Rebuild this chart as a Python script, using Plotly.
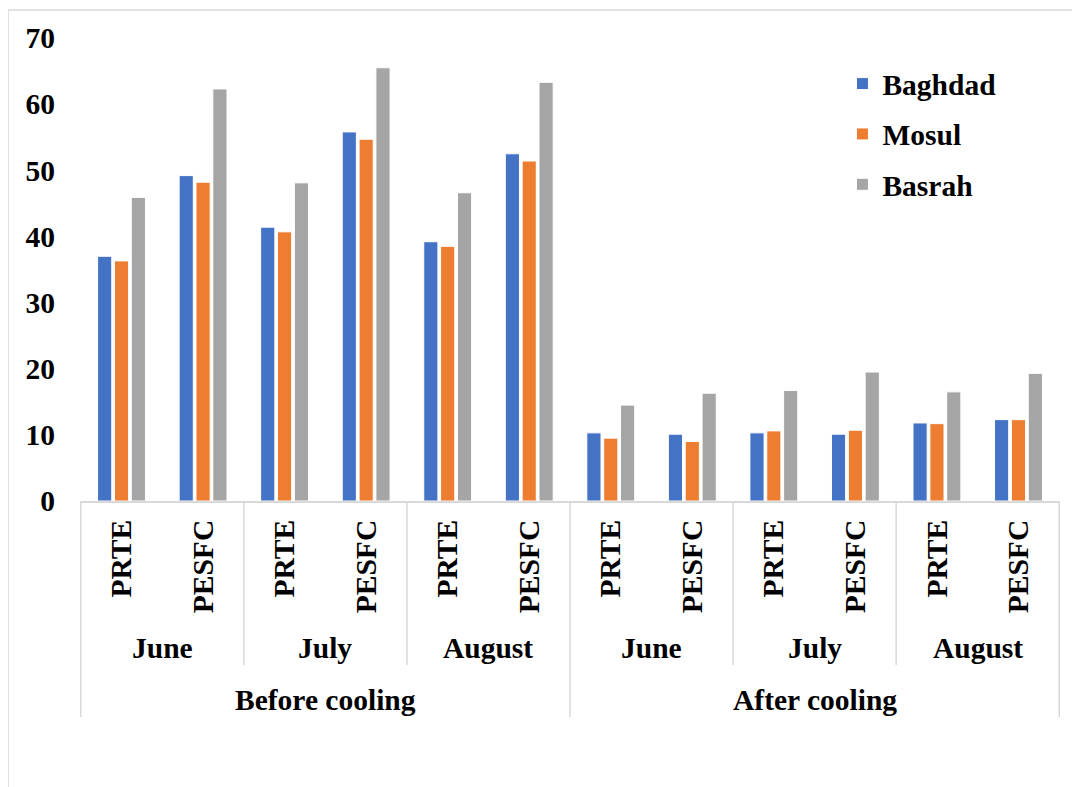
import plotly.graph_objects as go

# categories (three levels, outer to inner)
phases = ["Before cooling", "After cooling"]
months = ["June", "July", "August"]
metrics = ["PRTE", "PESFC"]

# values, in order:
# before: June PRTE, June PESFC, July PRTE, July PESFC, Aug PRTE, Aug PESFC, then after: same
baghdad = [37.0, 49.2, 41.4, 55.8, 39.2, 52.5, 10.3, 10.1, 10.3, 10.1, 11.8, 12.3]
mosul = [36.3, 48.2, 40.7, 54.7, 38.5, 51.4, 9.5, 9.0, 10.6, 10.7, 11.7, 12.3]
basrah = [45.9, 62.3, 48.1, 65.5, 46.6, 63.3, 14.5, 16.3, 16.7, 19.5, 16.5, 19.3]

series = [("Baghdad", baghdad, "#4472C4"),
          ("Mosul", mosul, "#ED7D31"),
          ("Basrah", basrah, "#A5A5A5")]

FONT = "'Liberation Serif', 'DejaVu Serif', serif"
FS = 29.5
GRID = "#D9D9D9"

# unique category keys, one per bar group
x_keys = []
x_text = []
for p in phases:
    for m in months:
        for k in metrics:
            x_keys.append(f"{p}|{m}|{k}")
            x_text.append(f"<b>{k}</b>")

fig = go.Figure()
for name, vals, color in series:
    fig.add_trace(go.Bar(
        x=x_keys, y=vals, name=f"<b>{name}</b>", legendgroup=name,
        marker=dict(color=color, line=dict(color="white", width=1)),
    ))

# axis geometry in paper units (plot: 463 px tall)
H = 463.0
def py(px_below):
    return -px_below / H

# month labels and phase labels
n_m = len(metrics)
n_pm = len(months) * n_m
for i, p in enumerate(phases):
    for j, m in enumerate(months):
        c = i * n_pm + j * n_m + (n_m - 1) / 2
        fig.add_annotation(x=c, y=py(147), xref="x", yref="paper", text=f"<b>{m}</b>",
                           showarrow=False, yanchor="middle",
                           font=dict(size=FS, family=FONT, color="black"))
    c = i * n_pm + (n_pm - 1) / 2
    fig.add_annotation(x=c, y=py(199), xref="x", yref="paper", text=f"<b>{p}</b>",
                       showarrow=False, yanchor="middle",
                       font=dict(size=FS, family=FONT, color="black"))

# divider lines of the category axis
for b in range(0, len(x_keys) + 1, n_m):
    long_line = b % n_pm == 0
    fig.add_shape(type="line", xref="x", yref="paper",
                  x0=b - 0.5, x1=b - 0.5, y0=0, y1=py(216 if long_line else 164),
                  line=dict(color=GRID, width=1.5))

# chart area border (left and top edges visible)
fig.add_shape(type="line", xref="paper", yref="paper", x0=-0.0734, x1=-0.0734,
              y0=1.0605, y1=-0.75, line=dict(color=GRID, width=1.5))
fig.add_shape(type="line", xref="paper", yref="paper", x0=-0.0734, x1=1.05,
              y0=1.0605, y1=1.0605, line=dict(color=GRID, width=1.5))

# page body has an 8px margin, so the margins are shifted by that much
fig.update_layout(
    width=1080, height=787,
    margin=dict(l=72, r=28, t=30, b=294),
    paper_bgcolor="white", plot_bgcolor="white",
    font=dict(family=FONT, size=FS, color="black"),
    barmode="group", bargap=0.38, bargroupgap=0.16,
    showlegend=True,
    legend=dict(x=0.778, y=0.957, xanchor="left", yanchor="top",
                traceorder="grouped", tracegroupgap=9,
                font=dict(size=FS, family=FONT, color="black"),
                bgcolor="rgba(0,0,0,0)"),
    xaxis=dict(type="category", tickvals=x_keys, ticktext=x_text,
               tickangle=-90, showgrid=False, showline=True, linecolor=GRID,
               linewidth=2, ticks="", ticklabelstandoff=5,
               tickfont=dict(size=FS, family=FONT, color="black")),
    yaxis=dict(range=[0, 70], dtick=10, showgrid=False, zeroline=False,
               showline=False, ticks="", ticklabelstandoff=24,
               tickvals=list(range(0, 71, 10)),
               ticktext=[f"<b>{v}</b>" for v in range(0, 71, 10)],
               tickfont=dict(size=FS, family=FONT, color="black")),
)

fig.write_html("out.html")
